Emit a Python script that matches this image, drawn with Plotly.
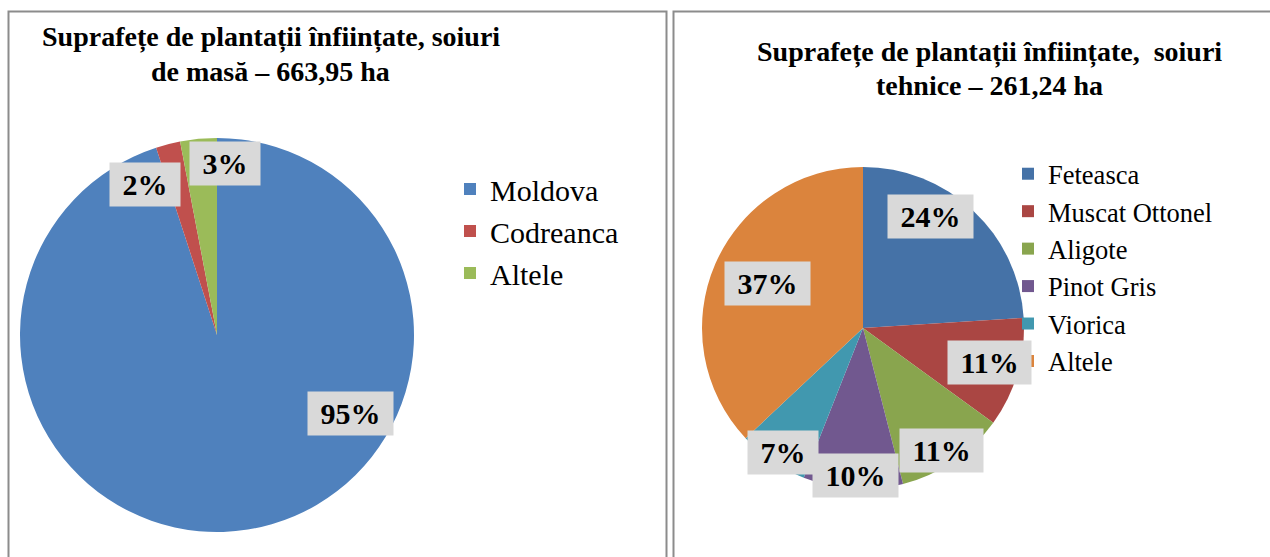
import plotly.graph_objects as go

W, H = 1270, 557

# left chart: soiuri de masă
left_labels = ["Moldova", "Codreanca", "Altele"]
left_values = [95, 2, 3]
left_colors = ["#4F81BD", "#C0504D", "#9BBB59"]

# right chart: soiuri tehnice
right_labels = ["Feteasca", "Muscat Ottonel", "Aligote", "Pinot Gris", "Viorica", "Altele"]
right_values = [24, 11, 11, 10, 7, 37]
right_colors = ["#4572A7", "#AA4643", "#89A54E", "#71588F", "#4198AF", "#DB843D"]

left_title = ["Suprafețe de plantații înființate, soiuri", "de masă – 663,95 ha"]
right_title = ["Suprafețe de plantații înființate,  soiuri", "tehnice – 261,24 ha"]

# label box centres in pixels (as placed in the original chart)
left_label_pos = [(351, 413), (145, 184), (225, 163)]
right_label_pos = [(930, 217), (990, 362), (942, 450), (855, 475), (783, 452), (767, 283)]

SERIF = "Liberation Serif, Times New Roman, serif"


def px(x, y):
    return x / W, 1 - y / H


fig = go.Figure()

fig.add_trace(go.Pie(
    labels=left_labels, values=left_values,
    domain=dict(x=[20 / W, 414 / W], y=[1 - 532 / H, 1 - 138 / H]),
    marker=dict(colors=left_colors, line=dict(width=0)),
    sort=False, direction="clockwise", rotation=0,
    textinfo="none", legend="legend",
))
# pie legend entries are keyed by label, so keep the second "Altele" distinct
fig.add_trace(go.Pie(
    labels=[l + "\u00a0" if l in left_labels else l for l in right_labels],
    values=right_values,
    domain=dict(x=[702 / W, 1024 / W], y=[1 - 489 / H, 1 - 167 / H]),
    marker=dict(colors=right_colors, line=dict(width=0)),
    sort=False, direction="clockwise", rotation=0,
    textinfo="none", legend="legend2",
))

annotations = []
for vals, pos in ((left_values, left_label_pos), (right_values, right_label_pos)):
    total = sum(vals)
    for v, (x, y) in zip(vals, pos):
        ax, ay = px(x, y)
        annotations.append(dict(
            x=ax, y=ay, xref="paper", yref="paper", xanchor="center", yanchor="middle",
            text="\u00a0" + f"{round(100 * v / total)}%" + "\u00a0", showarrow=False,
            font=dict(family=SERIF, size=30, color="black", weight="bold"),
            bgcolor="#D9D9D9", borderpad=5,
        ))

for lines, centres in ((left_title, [(271, 37), (270, 71)]),
                       (right_title, [(989, 52), (989, 85)])):
    for text, (x, y) in zip(lines, centres):
        ax, ay = px(x, y)
        annotations.append(dict(
            x=ax, y=ay, xref="paper", yref="paper", xanchor="center", yanchor="middle",
            text=text, showarrow=False,
            font=dict(family=SERIF, size=28, color="black", weight="bold"),
        ))

shapes = [
    dict(type="rect", xref="paper", yref="paper",
         x0=8.5 / W, x1=666.5 / W, y0=-0.05, y1=1 - 11.5 / H,
         line=dict(color="#8C8C8C", width=2)),
    dict(type="rect", xref="paper", yref="paper",
         x0=673.5 / W, x1=1.02, y0=-0.05, y1=1 - 11.5 / H,
         line=dict(color="#8C8C8C", width=2)),
]

fig.update_layout(
    width=W, height=H,
    margin=dict(l=0, r=0, t=0, b=0),
    paper_bgcolor="white", plot_bgcolor="white",
    font=dict(family=SERIF, color="black"),
    annotations=annotations, shapes=shapes,
    legend=dict(x=450 / W, y=1 - 163 / H, xanchor="left", yanchor="top",
                font=dict(family=SERIF, size=30, color="black"),
                bgcolor="rgba(0,0,0,0)"),
    legend2=dict(x=1008 / W, y=1 - 150 / H, xanchor="left", yanchor="top",
                 font=dict(family=SERIF, size=26.5, color="black"),
                 bgcolor="rgba(0,0,0,0)"),
)

fig.write_html("out.html", config={"displayModeBar": False},
               post_script="document.body.style.margin='0';")
